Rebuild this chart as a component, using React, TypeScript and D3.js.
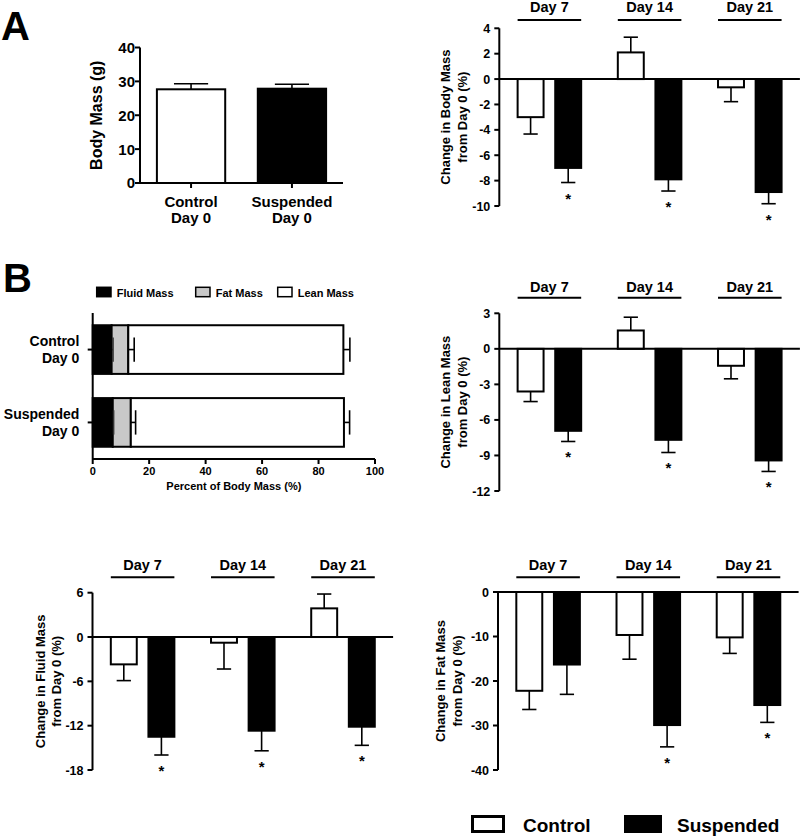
import React from 'react';
import * as d3 from 'd3';

const FONT = '"Liberation Sans", Arial, Helvetica, sans-serif';

// ---------- shared categories ----------
const days = ['Day 7', 'Day 14', 'Day 21'];
const groups = ['Control', 'Suspended'];

// ---------- Panel A: body mass at day 0 ----------
const baseCategories = ['Control', 'Suspended'];
const baseMass = [27.66, 27.84];
const baseMassSem = [1.65, 1.3];
const baseTicks = [0, 10, 20, 30, 40];

// ---------- Panel B: body composition at day 0 (percent of body mass) ----------
const compSeries = ['Fluid Mass', 'Fat Mass', 'Lean Mass'];
const compFluid = [6.7, 7.1];
const compFluidSem = [0.5, 0.3];
const compFat = [5.9, 6.4];
const compFatSem = [2.1, 1.7];
const compLean = [76.2, 75.5];
const compLeanSem = [2.3, 2.0];
const compTicks = [0, 20, 40, 60, 80, 100];

// ---------- Change in body mass ----------
const bodyControl = [-3.0, 2.1, -0.65];
const bodyControlSem = [1.33, 1.2, 1.13];
const bodySusp = [-7.0, -7.9, -8.9];
const bodySuspSem = [1.15, 0.92, 0.92];
const bodySig = [true, true, true];
const bodyTicks = [4, 2, 0, -2, -4, -6, -8, -10];

// ---------- Change in lean mass ----------
const leanControl = [-3.6, 1.55, -1.43];
const leanControlSem = [0.85, 1.12, 1.1];
const leanSusp = [-6.92, -7.68, -9.42];
const leanSuspSem = [0.9, 1.07, 0.93];
const leanSig = [true, true, true];
const leanTicks = [3, 0, -3, -6, -9, -12];

// ---------- Change in fluid mass ----------
const fluidControl = [-3.7, -0.77, 3.88];
const fluidControlSem = [2.2, 3.56, 1.94];
const fluidSusp = [-13.5, -12.68, -12.14];
const fluidSuspSem = [2.47, 2.72, 2.52];
const fluidSig = [true, true, true];
const fluidTicks = [6, 0, -6, -12, -18];

// ---------- Change in fat mass ----------
const fatControl = [-22.2, -9.66, -10.2];
const fatControlSem = [4.2, 5.44, 3.6];
const fatSusp = [-16.3, -29.9, -25.4];
const fatSuspSem = [6.7, 4.9, 3.9];
const fatSig = [false, true, true];
const fatTicks = [0, -10, -20, -30, -40];

const legendItems = ['Control', 'Suspended'];

type DayPanelProps = {
  axisX: number;
  topPx: number;
  bottomPx: number;
  ticks: number[];
  control: number[];
  controlSem: number[];
  susp: number[];
  suspSem: number[];
  sig: boolean[];
  label1: string;
  label2: string;
  labelOffset?: number;
  dayBaseline: number;
  underlineY: number;
};

function DayPanel(p: DayPanelProps) {
  const min = d3.min(p.ticks) as number;
  const max = d3.max(p.ticks) as number;
  const y = d3.scaleLinear().domain([min, max]).range([p.bottomPx, p.topPx]);
  const x0 = d3.scaleBand<string>().domain(days).range([p.axisX, p.axisX + 300.6]);
  const x1 = d3
    .scaleBand<string>()
    .domain(groups)
    .range([0, x0.bandwidth()])
    .paddingInner(0.31)
    .paddingOuter(0.487);
  const bw = x1.bandwidth();
  const zero = y(0);
  const cap = bw * 0.55;
  const series = [
    { key: 'Control', vals: p.control, sem: p.controlSem, fill: '#fff' },
    { key: 'Suspended', vals: p.susp, sem: p.suspSem, fill: '#000' },
  ];
  const cy = (p.topPx + p.bottomPx) / 2;
  const lo = p.labelOffset ?? 49;
  return (
    <g>
      {/* bars */}
      {series.map((s) =>
        days.map((d, i) => {
          const v = s.vals[i];
          const bx = (x0(d) as number) + (x1(s.key) as number);
          const yv = y(v);
          const e = v >= 0 ? y(v + s.sem[i]) : y(v - s.sem[i]);
          const cx = bx + bw / 2;
          return (
            <g key={s.key + d}>
              <line x1={cx} x2={cx} y1={yv} y2={e} stroke="#000" strokeWidth={1.6} />
              <line x1={cx - cap / 2} x2={cx + cap / 2} y1={e} y2={e} stroke="#000" strokeWidth={1.6} />
              <rect
                x={bx}
                y={Math.min(yv, zero)}
                width={bw}
                height={Math.abs(yv - zero)}
                fill={s.fill}
                stroke="#000"
                strokeWidth={2}
              />
            </g>
          );
        })
      )}
      {/* significance stars */}
      {days.map((d, i) =>
        p.sig[i] ? (
          <text
            key={'star' + d}
            x={(x0(d) as number) + (x1('Suspended') as number) + bw / 2}
            y={y(p.susp[i] - p.suspSem[i]) + 21}
            textAnchor="middle"
            fontSize={15}
            fontWeight="bold"
            fontFamily={FONT}
          >
            *
          </text>
        ) : null
      )}
      {/* zero line */}
      <line x1={p.axisX} x2={p.axisX + 300.6} y1={zero} y2={zero} stroke="#000" strokeWidth={2} />
      {/* y axis */}
      <line x1={p.axisX} x2={p.axisX} y1={p.topPx} y2={p.bottomPx} stroke="#000" strokeWidth={2} />
      {p.ticks.map((t) => (
        <g key={'t' + t}>
          <line x1={p.axisX - 5} x2={p.axisX} y1={y(t)} y2={y(t)} stroke="#000" strokeWidth={2} />
          <text
            x={p.axisX - 9}
            y={y(t)}
            dy="0.36em"
            textAnchor="end"
            fontSize={12.5}
            fontWeight="bold"
            fontFamily={FONT}
          >
            {t}
          </text>
        </g>
      ))}
      {/* day labels */}
      {days.map((d) => {
        const gx = x0(d) as number;
        return (
          <g key={'day' + d}>
            <text
              x={gx + x0.bandwidth() / 2}
              y={p.dayBaseline}
              textAnchor="middle"
              fontSize={14.5}
              fontWeight="bold"
              fontFamily={FONT}
            >
              {d}
            </text>
            <line
              x1={gx + (x1('Control') as number)}
              x2={gx + (x1('Suspended') as number) + bw}
              y1={p.underlineY}
              y2={p.underlineY}
              stroke="#000"
              strokeWidth={2}
            />
          </g>
        );
      })}
      {/* y label */}
      <text
        transform={`translate(${p.axisX - lo},${cy}) rotate(-90)`}
        textAnchor="middle"
        fontSize={13}
        fontWeight="bold"
        fontFamily={FONT}
      >
        {p.label1}
      </text>
      <text
        transform={`translate(${p.axisX - lo + 16.5},${cy}) rotate(-90)`}
        textAnchor="middle"
        fontSize={13}
        fontWeight="bold"
        fontFamily={FONT}
      >
        {p.label2}
      </text>
    </g>
  );
}

function PanelA() {
  const axisX = 140;
  const y = d3.scaleLinear().domain([0, 40]).range([183, 47.5]);
  const x = d3
    .scaleBand<string>()
    .domain(baseCategories)
    .range([140, 343])
    .paddingInner(0.323)
    .paddingOuter(0.1675);
  const bw = x.bandwidth();
  return (
    <g>
      {baseCategories.map((c, i) => {
        const bx = x(c) as number;
        const cx = bx + bw / 2;
        const top = y(baseMass[i]);
        const e = y(baseMass[i] + baseMassSem[i]);
        return (
          <g key={c}>
            <line x1={cx} x2={cx} y1={top} y2={e} stroke="#000" strokeWidth={1.6} />
            <line x1={cx - bw / 4} x2={cx + bw / 4} y1={e} y2={e} stroke="#000" strokeWidth={1.6} />
            <rect
              x={bx}
              y={top}
              width={bw}
              height={y(0) - top}
              fill={i === 0 ? '#fff' : '#000'}
              stroke="#000"
              strokeWidth={2}
            />
            <line x1={cx} x2={cx} y1={183} y2={188} stroke="#000" strokeWidth={2} />
            <text x={cx} y={206.7} textAnchor="middle" fontSize={15} fontWeight="bold" fontFamily={FONT}>
              {c}
            </text>
            <text x={cx} y={223.3} textAnchor="middle" fontSize={15} fontWeight="bold" fontFamily={FONT}>
              Day 0
            </text>
          </g>
        );
      })}
      <line x1={axisX} x2={343} y1={183} y2={183} stroke="#000" strokeWidth={2} />
      <line x1={axisX} x2={axisX} y1={47.5} y2={183} stroke="#000" strokeWidth={2} />
      {baseTicks.map((t) => (
        <g key={t}>
          <line x1={axisX - 5} x2={axisX} y1={y(t)} y2={y(t)} stroke="#000" strokeWidth={2} />
          <text x={axisX - 5} y={y(t)} dy="0.36em" textAnchor="end" fontSize={15} fontWeight="bold" fontFamily={FONT}>
            {t}
          </text>
        </g>
      ))}
      <text
        transform={`translate(102,${(47.5 + 183) / 2}) rotate(-90)`}
        textAnchor="middle"
        fontSize={16}
        fontWeight="bold"
        fontFamily={FONT}
      >
        Body Mass (g)
      </text>
    </g>
  );
}

function PanelB() {
  const axisX = 92.7;
  const axisY = 459;
  const x = d3.scaleLinear().domain([0, 100]).range([axisX, 375]);
  const y = d3
    .scaleBand<string>()
    .domain(baseCategories)
    .range([313, axisY])
    .paddingInner(0.332)
    .paddingOuter(0.168);
  const bh = y.bandwidth();
  const fills = ['#000', '#c8c8c8', '#fff'];
  const legendX = [96.7, 195.7, 277.7];
  return (
    <g>
      {/* legend */}
      {compSeries.map((s, i) => (
        <g key={s}>
          <rect x={legendX[i]} y={287.3} width={14.3} height={9.4} fill={fills[i]} stroke="#000" strokeWidth={1.5} />
          <text x={legendX[i] + 20} y={296.6} fontSize={11} fontWeight="bold" fontFamily={FONT}>
            {s}
          </text>
        </g>
      ))}
      {baseCategories.map((c, i) => {
        const by = y(c) as number;
        const cy = by + bh / 2;
        const f1 = compFluid[i];
        const f2 = f1 + compFat[i];
        const f3 = f2 + compLean[i];
        const segs = [
          { a: 0, b: f1, fill: fills[0], sem: compFluidSem[i] },
          { a: f1, b: f2, fill: fills[1], sem: compFatSem[i] },
          { a: f2, b: f3, fill: fills[2], sem: compLeanSem[i] },
        ];
        return (
          <g key={c}>
            {segs.map((s, j) => (
              <rect
                key={j}
                x={x(s.a)}
                y={by}
                width={x(s.b) - x(s.a)}
                height={bh}
                fill={s.fill}
                stroke="#000"
                strokeWidth={2}
              />
            ))}
            {segs.map((s, j) => (
              <g key={'e' + j}>
                <line x1={x(s.b)} x2={x(s.b + s.sem)} y1={cy} y2={cy} stroke="#000" strokeWidth={1.6} />
                <line
                  x1={x(s.b + s.sem)}
                  x2={x(s.b + s.sem)}
                  y1={cy - bh / 4}
                  y2={cy + bh / 4}
                  stroke={j === 0 ? '#333' : '#000'}
                  strokeWidth={1.6}
                />
              </g>
            ))}
            <line x1={axisX - 5} x2={axisX} y1={cy} y2={cy} stroke="#000" strokeWidth={2} />
            <text x={79.3} y={cy - 3.3} textAnchor="end" fontSize={14} fontWeight="bold" fontFamily={FONT}>
              {c}
            </text>
            <text x={79.3} y={cy + 13.3} textAnchor="end" fontSize={14} fontWeight="bold" fontFamily={FONT}>
              Day 0
            </text>
          </g>
        );
      })}
      <line x1={axisX} x2={axisX} y1={313} y2={axisY} stroke="#000" strokeWidth={2} />
      <line x1={axisX} x2={375} y1={axisY} y2={axisY} stroke="#000" strokeWidth={2} />
      {compTicks.map((t) => (
        <g key={t}>
          <line x1={x(t)} x2={x(t)} y1={axisY} y2={axisY + 5} stroke="#000" strokeWidth={2} />
          <text x={x(t)} y={axisY + 16} textAnchor="middle" fontSize={11} fontWeight="bold" fontFamily={FONT}>
            {t}
          </text>
        </g>
      ))}
      <text
        x={(axisX + 375) / 2}
        y={axisY + 31}
        textAnchor="middle"
        fontSize={11}
        fontWeight="bold"
        fontFamily={FONT}
      >
        Percent of Body Mass (%)
      </text>
    </g>
  );
}

function Legend() {
  const boxX = [472.5, 624];
  const textX = [523, 677];
  return (
    <g>
      {legendItems.map((l, i) => (
        <g key={l}>
          {i === 0 ? (
            <rect x={boxX[i]} y={816.5} width={31} height={15} fill="#fff" stroke="#000" strokeWidth={3} />
          ) : (
            <rect x={boxX[i]} y={815} width={38} height={18} fill="#000" />
          )}
          <text x={textX[i]} y={831.5} fontSize={19} fontWeight="bold" fontFamily={FONT}>
            {l}
          </text>
        </g>
      ))}
    </g>
  );
}

export default function App() {
  return (
    <svg
      width={800}
      height={836}
      viewBox="0 0 800 836"
      style={{ position: 'absolute', left: 0, top: 0, background: '#fff' }}
    >
      <rect x={0} y={0} width={800} height={836} fill="#fff" />
      <text x={1} y={39.5} fontSize={40} fontWeight="bold" fontFamily={FONT}>
        A
      </text>
      <text x={3} y={292} fontSize={40} fontWeight="bold" fontFamily={FONT}>
        B
      </text>
      <PanelA />
      <DayPanel
        axisX={499.3}
        topPx={28.3}
        bottomPx={206}
        ticks={bodyTicks}
        control={bodyControl}
        controlSem={bodyControlSem}
        susp={bodySusp}
        suspSem={bodySuspSem}
        sig={bodySig}
        label1="Change in Body Mass"
        label2="from Day 0 (%)"
        dayBaseline={12}
        underlineY={20}
      />
      <PanelB />
      <DayPanel
        axisX={499.3}
        topPx={313.3}
        bottomPx={491}
        ticks={leanTicks}
        control={leanControl}
        controlSem={leanControlSem}
        susp={leanSusp}
        suspSem={leanSuspSem}
        sig={leanSig}
        label1="Change in Lean Mass"
        label2="from Day 0 (%)"
        dayBaseline={291.5}
        underlineY={297.7}
      />
      <DayPanel
        axisX={92.5}
        topPx={592.7}
        bottomPx={770}
        ticks={fluidTicks}
        control={fluidControl}
        controlSem={fluidControlSem}
        susp={fluidSusp}
        suspSem={fluidSuspSem}
        sig={fluidSig}
        label1="Change in Fluid Mass"
        label2="from Day 0 (%)"
        labelOffset={48}
        dayBaseline={570}
        underlineY={577.3}
      />
      <DayPanel
        axisX={498}
        topPx={592}
        bottomPx={770}
        ticks={fatTicks}
        control={fatControl}
        controlSem={fatControlSem}
        susp={fatSusp}
        suspSem={fatSuspSem}
        sig={fatSig}
        label1="Change in Fat Mass"
        label2="from Day 0 (%)"
        labelOffset={53}
        dayBaseline={570}
        underlineY={577.3}
      />
      <Legend />
    </svg>
  );
}
